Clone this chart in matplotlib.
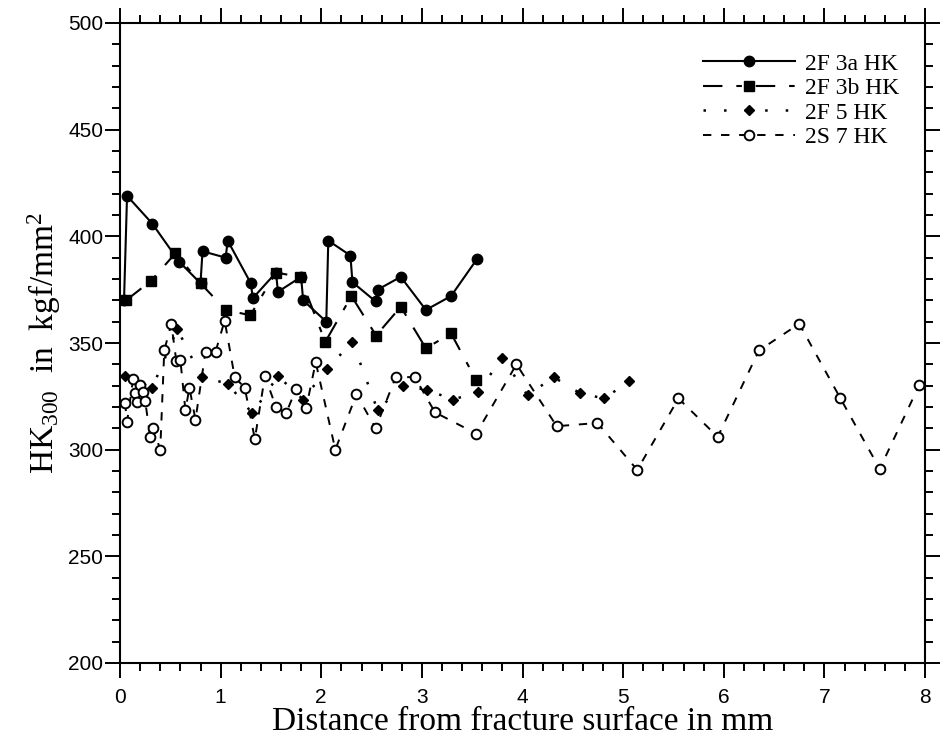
import matplotlib
matplotlib.use("Agg")
import matplotlib.pyplot as plt
from matplotlib.ticker import MultipleLocator

plt.rcParams["lines.scale_dashes"] = False
plt.rcParams["mathtext.fontset"] = "custom"
plt.rcParams["mathtext.rm"] = "Liberation Serif"
plt.rcParams["mathtext.it"] = "Liberation Serif:italic"

# Knoop hardness traverses (distance in mm, HK300 in kgf/mm^2)
x_3a = [0.04, 0.07, 0.32, 0.59, 0.80, 0.82, 1.05, 1.07, 1.30, 1.32, 1.55, 1.57,
        1.80, 1.82, 2.05, 2.07, 2.29, 2.31, 2.54, 2.56, 2.79, 3.04, 3.29, 3.55]
y_3a = [370, 419, 406, 388, 378, 393, 390, 398, 378, 371, 383, 374,
        381, 370, 360, 398, 391, 378.5, 369.5, 375, 381, 365.5, 372, 389.5]

x_3b = [0.06, 0.305, 0.55, 0.80, 1.05, 1.295, 1.55, 1.79, 2.04, 2.30, 2.545,
        2.79, 3.04, 3.29, 3.54]
y_3b = [370, 379, 392, 378, 365.5, 363, 383, 381, 350.5, 372, 353.5,
        367, 347.5, 354.5, 332.5]

x_5 = [0.05, 0.32, 0.57, 0.81, 1.07, 1.315, 1.57, 1.82, 2.06, 2.31, 2.56,
       2.81, 3.05, 3.31, 3.555, 3.80, 4.05, 4.31, 4.57, 4.81, 5.06]
y_5 = [334.5, 329, 356.5, 334, 331, 317, 334.5, 323.5, 338, 350.5, 318.5,
       330, 328, 323.5, 327, 343, 325.5, 334, 326.5, 324, 332]

x_7 = [0.05, 0.07, 0.13, 0.15, 0.17, 0.20, 0.23, 0.25, 0.30, 0.33, 0.40,
       0.44, 0.51, 0.56, 0.60, 0.65, 0.69, 0.75, 0.85, 0.95, 1.04, 1.14,
       1.24, 1.34, 1.44, 1.55, 1.65, 1.75, 1.85, 1.945, 2.14, 2.35, 2.54,
       2.74, 2.93, 3.13, 3.54, 3.94, 4.34, 4.745, 5.14, 5.55, 5.94, 6.35,
       6.75, 7.16, 7.55, 7.945]
y_7 = [322, 313, 333, 326.5, 322.5, 330.5, 327, 323, 306, 310, 300,
       346.5, 359, 341.5, 342, 318.5, 329, 314, 346, 346, 360.5, 334,
       329, 305, 334.5, 320, 317, 328.5, 319.5, 341, 300, 326, 310,
       334, 334, 317.5, 307.5, 340, 311, 312.5, 290.5, 324, 306, 346.5,
       359, 324, 291, 330.5]

labels = ["2F 3a HK", "2F 3b HK", "2F 5 HK", "2S 7 HK"]

fig = plt.figure(figsize=(9.44, 7.45), dpi=100)
ax = fig.add_axes([120 / 944, 1 - 663 / 745, 805 / 944, 640 / 745])

ax.plot(x_3a, y_3a, color="black", lw=1.5, ls="-", marker="o", ms=7.5,
        mfc="black", mec="black", label=labels[0])
ax.plot(x_3b, y_3b, color="black", lw=1.5, ls=(0, (14, 10, 4, 10)), marker="s",
        ms=7, mfc="black", mec="black", label=labels[1])
ax.plot(x_5, y_5, color="black", lw=1.8, ls=(0, (1.8, 13)), marker="D", ms=5.5,
        mfc="black", mec="black", label=labels[2])
ax.plot(x_7, y_7, color="black", lw=1.4, ls=(0, (6, 7)), marker="o", ms=7,
        mfc="white", mec="black", mew=1.4, label=labels[3])

ax.set_xlim(0, 8)
ax.set_ylim(200, 500)
ax.xaxis.set_major_locator(MultipleLocator(1))
ax.xaxis.set_minor_locator(MultipleLocator(0.2))
ax.yaxis.set_major_locator(MultipleLocator(50))
ax.yaxis.set_minor_locator(MultipleLocator(10))

for s in ax.spines.values():
    s.set_linewidth(1.5)
ax.tick_params(which="both", direction="out", top=True, right=True, width=1.4)
ax.tick_params(which="major", length=11)
ax.tick_params(which="minor", length=5.5)
ax.tick_params(axis="y", which="major", pad=1)
ax.tick_params(axis="x", which="major", pad=7)
for t in ax.get_xticklabels() + ax.get_yticklabels():
    t.set_fontfamily("Liberation Sans")
    t.set_fontsize(15)

ax.set_xlabel("Distance from fracture surface in mm", family="Liberation Serif",
              fontsize=24, labelpad=0)
ax.set_ylabel("HK$_{300}$  in  kgf/mm$^2$", family="Liberation Serif",
              fontsize=24, labelpad=4)

leg = ax.legend(loc="upper left", bbox_to_anchor=(703 / 944, 1 - 53 / 745),
                bbox_transform=fig.transFigure, frameon=False,
                prop={"family": "Liberation Serif", "size": 17},
                handlelength=3.9, handletextpad=0.42, labelspacing=0.13,
                borderpad=0, borderaxespad=0, numpoints=1)

fig.savefig("out.png", dpi=100)
